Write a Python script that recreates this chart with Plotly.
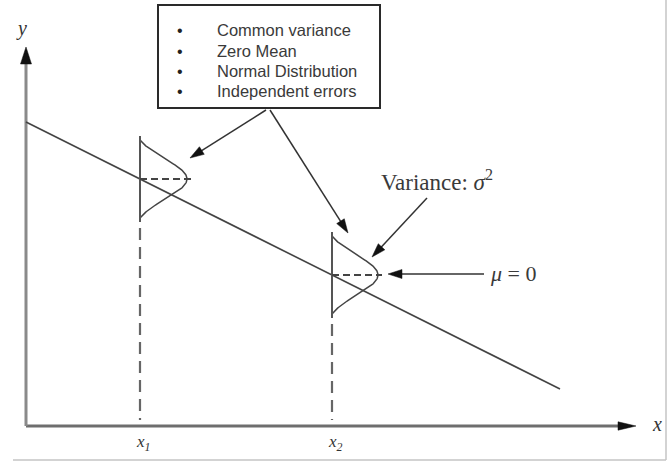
import numpy as np
import plotly.graph_objects as go

# ---- model quantities (plot units) ----
x_points = [11.4, 30.6]          # x1, x2 on the horizontal axis
x_labels = ["x<sub>1</sub>", "x<sub>2</sub>"]
intercept = 30.4                 # regression line y = a + b x
slope = -0.5
line_x = [0.0, 53.4]             # extent of the drawn regression line
sigma = 2.0                      # spread of the error density
peak_width = [4.7, 4.6]          # horizontal height of each bell curve
curve_half = 3.9                 # half-extent of the bell curve
stem_half = 4.3                  # half-extent of the vertical stem
dash_extra = [0.5, 0.4]          # dashed mean line beyond the peak

axis_x_end = 61.0
axis_y_end = 37.9

box_items = ["Common variance", "Zero Mean", "Normal Distribution", "Independent errors"]
box_rows = [39.6, 37.5, 35.5, 33.5]
box_rect = [13.2, 31.8, 35.4, 42.1]   # x0, y0, x1, y1

# callout arrows: (tail_x, tail_y, tip_x, tip_y)
callouts = [
    (24.0, 31.6, 16.4, 26.8),
    (24.4, 31.6, 32.2, 19.3),
    (40.1, 22.8, 34.6, 16.9),
    (45.8, 15.2, 36.2, 15.2),
]

INK = "#333333"
fig = go.Figure()


def add_line(xs, ys, color=INK, width=1.5, dash="solid"):
    fig.add_trace(go.Scatter(x=xs, y=ys, mode="lines", hoverinfo="skip",
                             line=dict(color=color, width=width, dash=dash)))


def add_head(tip_x, tip_y, dx, dy, length, half, color="#111111"):
    n = np.hypot(dx, dy)
    ux, uy = dx / n, dy / n
    bx, by = tip_x - ux * length, tip_y - uy * length
    px, py = -uy * half, ux * half
    fig.add_trace(go.Scatter(
        x=[tip_x, bx + px, bx - px, tip_x], y=[tip_y, by + py, by - py, tip_y],
        mode="lines", fill="toself", fillcolor=color, hoverinfo="skip",
        line=dict(color=color, width=0.5)))


# axes with arrowheads
add_line([0, axis_x_end - 1.0], [0, 0], color="#6e6e6e", width=3)
add_head(axis_x_end, 0, 1, 0, 1.8, 0.42)
add_line([0, 0], [0, axis_y_end - 1.0], color="#8a8a8a", width=3)
add_head(0, axis_y_end, 0, 1, 1.7, 0.55)

# regression line
ly = [intercept + slope * v for v in line_x]
add_line(line_x, ly, color="#444444", width=1.6)

# error densities at x1 and x2
for xi, amp, extra in zip(x_points, peak_width, dash_extra):
    mu = intercept + slope * xi
    t = np.linspace(-curve_half, curve_half, 121)
    g = np.exp(-t ** 2 / (2 * sigma ** 2))
    g0 = np.exp(-curve_half ** 2 / (2 * sigma ** 2))
    g = (g - g0) / (1 - g0)
    add_line(xi + amp * g, mu + t, color="#444444", width=1.5)
    add_line([xi, xi], [mu - stem_half, mu + stem_half], color="#555555", width=2)
    add_line([xi, xi + amp + extra], [mu, mu], color="#444444", width=1.8, dash="7px,4px")
    add_line([xi, xi], [mu - stem_half - 0.6, 0.6], color="#666666", width=2.2, dash="12px,7px")

# callout arrows
for tx, ty, hx, hy in callouts:
    add_line([tx, hx - (hx - tx) * 0.06], [ty, hy - (hy - ty) * 0.06], color=INK, width=1.5)
    add_head(hx, hy, hx - tx, hy - ty, 1.4, 0.45)

# legend box
fig.add_shape(type="rect", x0=box_rect[0], y0=box_rect[1], x1=box_rect[2], y1=box_rect[3],
              line=dict(color="#2a2a2a", width=2), fillcolor="white", layer="below")

ann = []
for label, yy in zip(box_items, box_rows):
    ann.append(dict(x=15.4, y=yy, text="•", showarrow=False, xanchor="center",
                    font=dict(family="Liberation Sans", size=16, color="#222222")))
    ann.append(dict(x=18.9, y=yy, text=label, showarrow=False, xanchor="left",
                    font=dict(family="Liberation Sans", size=16.5, color="#3a3a3a")))

serif = "Liberation Serif"
ann += [
    dict(x=-0.5, y=39.8, text="<i>y</i>", showarrow=False,
         font=dict(family=serif, size=20, color="#333333")),
    dict(x=63.1, y=0.2, text="<i>x</i>", showarrow=False,
         font=dict(family=serif, size=20, color="#333333")),
    dict(x=35.3, y=24.6, text="Variance: <i>σ</i><sup>2</sup>", showarrow=False, xanchor="left",
         font=dict(family=serif, size=23, color="#3a3a3a")),
    dict(x=46.2, y=15.3, text="<i>μ</i> = 0", showarrow=False, xanchor="left",
         font=dict(family=serif, size=22, color="#3a3a3a")),
]
for xi, lab in zip(x_points, x_labels):
    ann.append(dict(x=xi + 0.3, y=-1.7, text="<i>" + lab + "</i>", showarrow=False,
                    font=dict(family=serif, size=17, color="#333333")))

# light frame along the right and bottom edges
fig.add_shape(type="line", x0=64.0, y0=42.6, x1=64.0, y1=-3.4,
              line=dict(color="#c4c4c4", width=1.5))
fig.add_shape(type="line", x0=-1.3, y0=-3.4, x1=64.0, y1=-3.4,
              line=dict(color="#c4c4c4", width=1.5))

fig.update_layout(
    width=672, height=462, margin=dict(l=0, r=0, t=0, b=0),
    paper_bgcolor="white", plot_bgcolor="white", showlegend=False,
    xaxis=dict(range=[-2.6, 64.6], visible=False, fixedrange=True),
    yaxis=dict(range=[-3.6, 42.6], visible=False, fixedrange=True),
    annotations=ann,
)

fig.write_html("out.html", config={"displayModeBar": False})
